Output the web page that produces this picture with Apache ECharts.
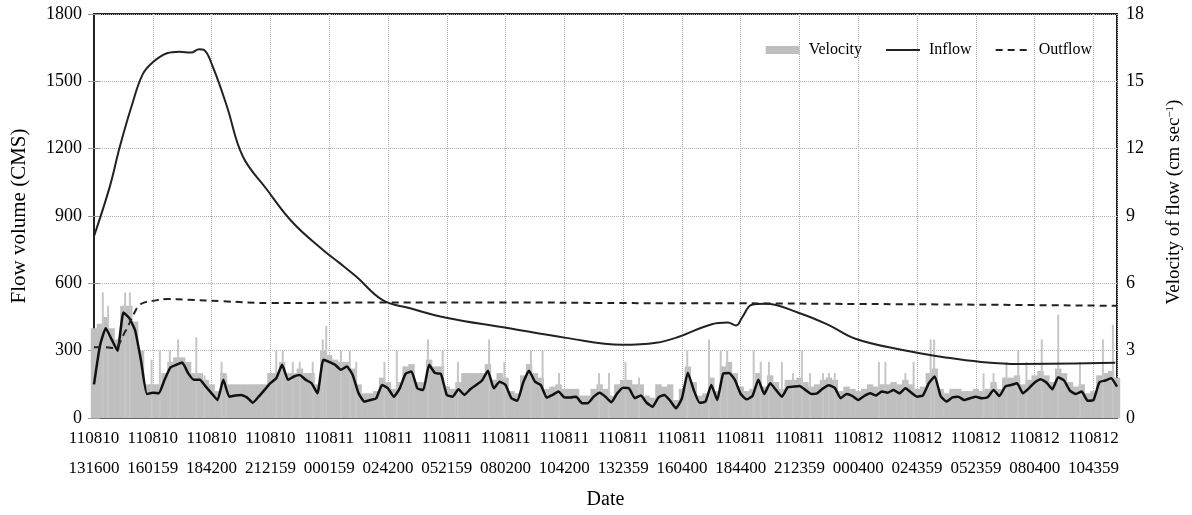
<!DOCTYPE html>
<html>
<head>
<meta charset="utf-8">
<script src="https://cdn.jsdelivr.net/npm/echarts@6/dist/echarts.min.js"></script>
<style>html,body{margin:0;padding:0;background:#fff}#c{width:1192px;height:515px}</style>
</head>
<body>
<div id="c"></div>
<script>
// x axis: time step index (label every 10 steps)
const dateLabels = ['110810','110810','110810','110810','110811','110811','110811','110811','110811','110811','110811','110811','110811','110812','110812','110812','110812','110812'];
const timeLabels = ['131600','160159','184200','212159','000159','024200','052159','080200','104200','132359','160400','184400','212359','000400','024359','052359','080400','104359'];

// Inflow (CMS) at time steps
const inflowStep = [0,2.7,4.4,6.6,8.3,10,12.4,14.5,16.5,17.9,18.7,20.2,22.6,25.3,29.4,33.8,38.9,41.8,44.6,49.1,53.6,59.9,70.1,80.3,89.8,95.6,99.5,105.1,107.8,109.2,110.3,111.9,114.2,119.8,124.9,129.5,137.3,145.3,150.9,157.2,173.7];
const inflowValue = [810,1032,1210,1407,1532,1585,1625,1632,1628,1643,1640,1565,1389,1166,1018,871,750,690,630,525,490,447,402,357,326,335,362,418,425,412,451,505,509,469,415,353,304,268,250,241,246];

// Outflow (CMS)
const outflowStep = [0,2,3.4,5.3,6.9,7.6,8.5,10,12.5,16,22,30,38,50,70,90,110,130,150,174];
const outflowValue = [315,315,312,385,470,500,514,522,530,527,520,512,513,515,515,512,511,508,505,500];

// Velocity (cm/s), gray bars, one per step
const velocity = [4.0,4.2,4.5,4.0,3.5,5.0,5.0,4.3,3.0,1.5,
1.5,1.5,2.0,2.5,2.7,2.7,2.5,2.0,2.0,1.7,
1.5,1.2,2.0,1.5,1.5,1.5,1.5,1.5,1.5,1.5,
2.0,2.0,2.5,2.0,2.0,2.2,2.0,2.0,1.5,3.0,
2.8,2.6,2.5,2.5,2.2,1.5,1.1,1.1,1.2,1.8,
1.6,1.3,1.6,2.3,2.4,1.6,1.6,2.6,2.3,2.3,
1.4,1.3,1.6,2.0,2.0,2.0,2.0,2.4,1.7,2.0,
1.8,1.2,1.1,1.9,2.4,2.0,1.8,1.3,1.4,1.5,
1.3,1.3,1.3,1.0,1.0,1.3,1.5,1.3,1.0,1.5,
1.7,1.7,1.5,1.5,1.0,0.9,1.5,1.4,1.5,0.8,
1.3,2.3,1.6,1.0,1.1,1.8,1.2,2.3,2.5,2.0,
1.4,1.2,1.3,2.0,1.4,1.9,1.6,1.3,1.7,1.7,
1.8,1.6,1.4,1.5,1.7,1.8,1.7,1.2,1.4,1.3,
1.2,1.3,1.5,1.4,1.5,1.5,1.6,1.5,1.7,1.5,
1.3,1.4,2.0,2.2,1.3,1.1,1.3,1.3,1.2,1.2,
1.3,1.2,1.3,1.6,1.3,1.8,1.8,1.9,1.5,1.7,
1.9,2.1,1.9,1.6,2.2,2.0,1.6,1.4,1.5,1.1,
1.2,1.9,2.0,2.1,1.8];

// Velocity peaks (thin spikes)
const spikeStep = [1.5,2.4,5.3,6.1,9.8,11.2,12.9,14.3,17.4,18.8,21.7,22.5,31,32.1,33.8,35,37.2,38.9,39.5,42,43.5,44.6,49.4,51.5,56.8,59.3,61.9,67.2,69.8,74.3,76.3,79.1,85.9,87.6,90.4,92.7,100.9,104.6,106.6,107.7,112.2,113.4,114.8,117,118.9,120.4,121.8,124,125,126,133.5,134.6,138,139.4,142.3,142.9,151.3,153,155.2,157.2,158.6,161.2,164,167.7,171.6,173.3];
const spikeValue = [5.6,5.0,5.6,5.6,2.6,3.0,3.0,3.5,3.6,1.9,2.5,1.9,3.0,3.0,2.5,2.5,2.5,3.5,4.1,3.0,3.0,2.5,2.5,3.0,3.5,3.0,2.5,3.5,2.5,3.0,3.0,2.0,2.0,2.0,2.5,1.8,3.0,3.5,3.0,3.0,3.0,2.5,2.5,2.5,2.0,3.0,2.0,2.0,2.0,2.0,2.5,2.5,2.0,2.5,3.5,3.5,2.0,2.0,2.5,3.0,2.5,3.5,4.6,2.5,3.5,4.15];

// Velocity, running mean (black line)
const velocityMean = [1.5,3.2,4.0,3.5,3.0,4.7,4.45,3.9,2.55,1.07,
1.13,1.1,1.7,2.25,2.37,2.47,2.0,1.7,1.7,1.4,
1.1,0.8,1.7,0.95,1.0,1.03,0.92,0.68,0.95,1.25,
1.55,1.77,2.37,1.7,1.85,1.92,1.7,1.55,1.1,2.6,
2.5,2.37,2.15,2.3,1.92,1.1,0.73,0.8,0.88,1.47,
1.32,0.95,1.32,1.97,2.07,1.32,1.25,2.37,2.0,1.97,
1.03,0.95,1.28,1.03,1.28,1.47,1.67,2.11,1.32,1.62,
1.47,0.88,0.77,1.58,2.11,1.62,1.47,0.91,1.03,1.18,
0.92,0.91,0.95,0.66,0.66,0.95,1.13,0.95,0.7,1.1,
1.35,1.32,0.88,1.0,0.68,0.5,0.91,1.03,0.77,0.43,
0.88,2.02,1.25,0.68,0.73,1.47,0.8,1.97,2.0,1.7,
1.07,0.83,0.98,1.7,1.07,1.55,1.25,0.95,1.37,1.4,
1.43,1.25,1.07,1.1,1.32,1.46,1.34,0.88,1.07,0.98,
0.8,0.98,1.1,1.0,1.18,1.13,1.25,1.1,1.32,1.13,
0.95,1.01,1.55,1.85,0.98,0.73,0.92,0.95,0.8,0.88,
0.95,0.88,0.92,1.25,0.98,1.4,1.47,1.55,1.1,1.32,
1.58,1.73,1.58,1.28,1.82,1.67,1.22,1.07,1.18,0.77,
0.8,1.59,1.67,1.77,1.4];

const FONT = 'Liberation Serif';
const chart = echarts.init(document.getElementById('c'), null, {renderer: 'canvas'});
const xMax = 174;
const hiddenSymbol = {color: 'transparent', borderColor: 'transparent', borderWidth: 0, opacity: 0};

chart.setOption({
  animation: false,
  backgroundColor: '#ffffff',
  textStyle: {fontFamily: FONT, color: '#000'},
  grid: {left: 94, right: 73, top: 14, bottom: 97, show: true, borderColor: '#222', borderWidth: 2, backgroundColor: 'transparent'},
  legend: {
    right: 95, top: 37,
    itemWidth: 34, itemHeight: 8, itemGap: 23,
    textStyle: {fontFamily: FONT, fontSize: 16, color: '#000', padding: [0, 0, 0, 4]},
    data: [
      {name: 'Velocity', icon: 'rect'},
      {name: 'Inflow', itemStyle: hiddenSymbol},
      {name: 'Outflow', itemStyle: hiddenSymbol}
    ]
  },
  xAxis: [{
    type: 'value', min: 0, max: xMax, interval: 10,
    name: 'Date', nameLocation: 'middle', nameGap: 72,
    nameTextStyle: {fontFamily: FONT, fontSize: 20, color: '#000'},
    axisLine: {show: true, lineStyle: {color: '#666', width: 2}},
    axisTick: {show: false},
    axisLabel: {
      fontFamily: FONT, fontSize: 17, color: '#000', lineHeight: 30, margin: 6,
      formatter: function (v) {
        if (v % 10 !== 0) return '';
        const k = v / 10;
        if (k >= dateLabels.length) return '';
        return dateLabels[k] + '\n' + timeLabels[k];
      }
    },
    splitLine: {show: true, lineStyle: {color: '#b0b0b0', type: 'dotted', width: 1}}
  }, {
    type: 'value', min: 0, max: xMax, show: false
  }],
  yAxis: [{
    type: 'value', min: 0, max: 1800, interval: 300,
    name: 'Flow volume (CMS)', nameLocation: 'middle', nameGap: 64, nameRotate: 90,
    nameTextStyle: {fontFamily: FONT, fontSize: 21, color: '#000'},
    axisLine: {show: true, lineStyle: {color: '#222', width: 2}},
    axisTick: {show: true, length: 6, lineStyle: {color: '#999'}},
    axisLabel: {fontFamily: FONT, fontSize: 18, color: '#000', margin: 12, formatter: v => String(v)},
    splitLine: {show: true, lineStyle: {color: '#b0b0b0', type: 'dotted', width: 1}}
  }, {
    type: 'value', min: 0, max: 18, interval: 3, position: 'right',
    name: 'Velocity of flow (cm sec{sup|−1})', nameLocation: 'middle', nameGap: 48, nameRotate: 90,
    nameTextStyle: {fontFamily: FONT, fontSize: 19, color: '#000', padding: [0, 0, 0, 28], rich: {sup: {fontFamily: FONT, fontSize: 11, color: '#000', verticalAlign: 'top'}}},
    axisLine: {show: true, lineStyle: {color: '#222', width: 2}},
    axisTick: {show: true, length: 6, lineStyle: {color: '#999'}},
    axisLabel: {fontFamily: FONT, fontSize: 18, color: '#000', margin: 9, formatter: v => String(v)},
    splitLine: {show: false}
  }],
  series: [{
    name: 'Velocity', type: 'bar', xAxisIndex: 0, yAxisIndex: 1,
    barWidth: 6.4, itemStyle: {color: '#bfbfbf'},
    data: velocity.map((v, i) => [i, v]), z: 1
  }, {
    name: 'Velocity', type: 'bar', xAxisIndex: 1, yAxisIndex: 1,
    barWidth: 2, itemStyle: {color: '#c6c6c6'},
    data: spikeStep.map((t, i) => [t, spikeValue[i]]), z: 1
  }, {
    name: 'Velocity mean', type: 'line', xAxisIndex: 0, yAxisIndex: 1,
    symbol: 'none', smooth: 0.15,
    lineStyle: {color: '#111', width: 2.5},
    data: velocityMean.map((v, i) => [i, v]), z: 3
  }, {
    name: 'Inflow', type: 'line', xAxisIndex: 0, yAxisIndex: 0,
    symbol: 'none', smooth: 0.4, color: '#222',
    lineStyle: {color: '#222', width: 2},
    data: inflowStep.map((t, i) => [t, inflowValue[i]]), z: 4
  }, {
    name: 'Outflow', type: 'line', xAxisIndex: 0, yAxisIndex: 0,
    symbol: 'none', smooth: 0.4, color: '#222',
    lineStyle: {color: '#222', width: 2, type: [7, 5]},
    data: outflowStep.map((t, i) => [t, outflowValue[i]]), z: 4
  }]
});
</script>
</body>
</html>
